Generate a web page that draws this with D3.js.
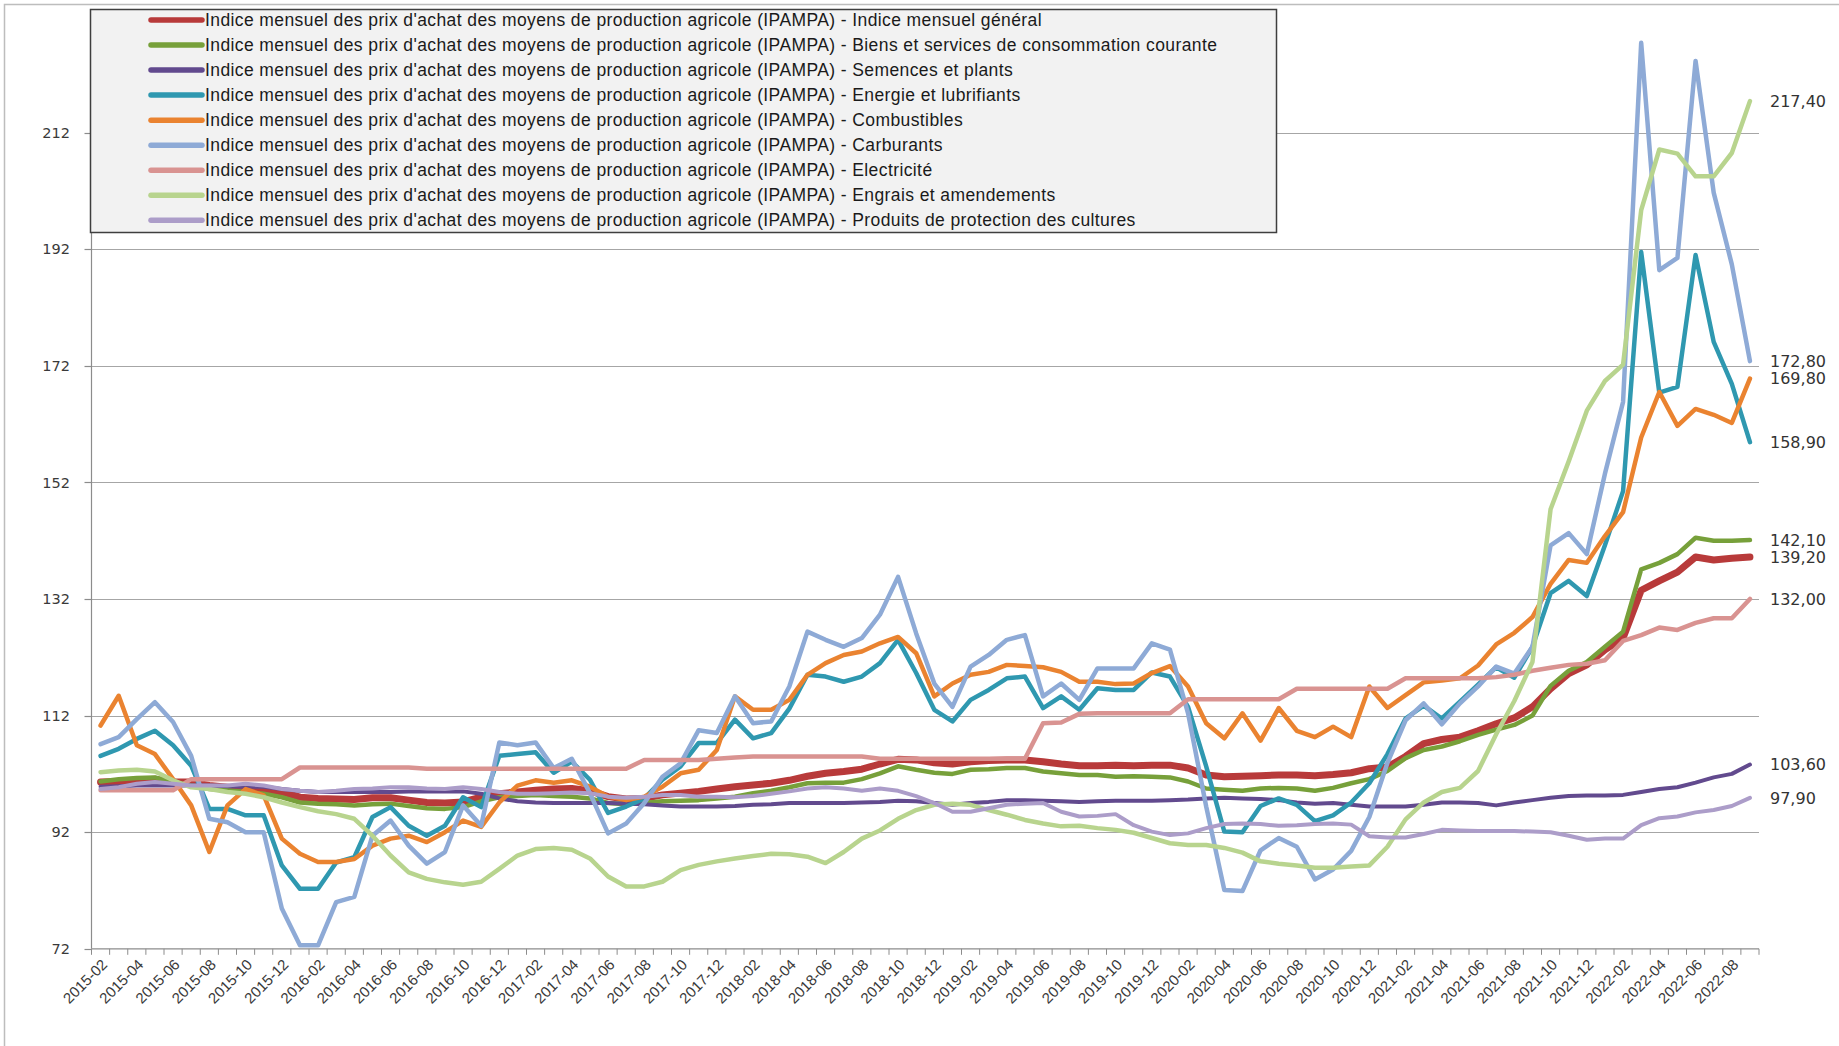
<!DOCTYPE html>
<html>
<head>
<meta charset="utf-8">
<title>IPAMPA - indices mensuels</title>
<script src="https://d3js.org/d3.v7.min.js"></script>
<style>
    body {
        margin: 0;
        background: #fff;
        overflow: hidden;
    }
    .y-label {
        font-family: 'DejaVu Sans', Verdana, sans-serif;
        font-size: 14.5px;
        fill: #3a3a3a;
    }
    .x-label {
        font-family: 'Liberation Sans', Arial, sans-serif;
        font-size: 15px;
        fill: #3a3a3a;
    }
    .end-label {
        font-family: 'DejaVu Sans', Verdana, sans-serif;
        font-size: 16px;
        fill: #333;
    }
    .legend-text {
        font-family: 'Liberation Sans', Arial, sans-serif;
        font-size: 17.5px;
        letter-spacing: 0.4px;
        fill: #1a1a1a;
    }
    .series {
        fill: none;
        stroke-linejoin: round;
        stroke-linecap: round;
    }
</style>
</head>
<body>
<div id="chart"></div>
<script>
// categories : 2015-02 .. 2022-09
const months = d3.utcMonth
    .range(new Date(Date.UTC(2015, 1, 1)), new Date(Date.UTC(2022, 9, 1)))
    .map(d3.utcFormat('%Y-%m'));

const yTicks = [72, 92, 112, 132, 152, 172, 192, 212];

const seriesNames = [
    "Indice mensuel des prix d'achat des moyens de production agricole (IPAMPA) - Indice mensuel général",
    "Indice mensuel des prix d'achat des moyens de production agricole (IPAMPA) - Biens et services de consommation courante",
    "Indice mensuel des prix d'achat des moyens de production agricole (IPAMPA) - Semences et plants",
    "Indice mensuel des prix d'achat des moyens de production agricole (IPAMPA) - Energie et lubrifiants",
    "Indice mensuel des prix d'achat des moyens de production agricole (IPAMPA) - Combustibles",
    "Indice mensuel des prix d'achat des moyens de production agricole (IPAMPA) - Carburants",
    "Indice mensuel des prix d'achat des moyens de production agricole (IPAMPA) - Electricité",
    "Indice mensuel des prix d'achat des moyens de production agricole (IPAMPA) - Engrais et amendements",
    "Indice mensuel des prix d'achat des moyens de production agricole (IPAMPA) - Produits de protection des cultures"
];

const general = [
    100.6, 100.7, 100.9, 101.1, 100.6, 100.6, 100.0, 99.7, 99.4, 99.4, 98.9, 98.0,
    97.8, 97.7, 97.6, 97.9, 97.9, 97.5, 97.1, 97.0, 97.2, 98.0, 98.6, 98.9,
    99.2, 99.4, 99.5, 99.1, 98.1, 97.7, 97.8, 98.4, 98.7, 99.0, 99.4, 99.8,
    100.1, 100.4, 100.9, 101.6, 102.1, 102.4, 102.8, 103.7, 104.5, 104.4, 103.9, 103.7,
    104.1, 104.3, 104.4, 104.4, 104.1, 103.7, 103.4, 103.4, 103.5, 103.4, 103.5, 103.5,
    103.0, 101.8, 101.5, 101.6, 101.7, 101.8, 101.8, 101.7, 101.9, 102.2, 102.9, 103.2,
    105.0, 107.2, 107.9, 108.3, 109.4, 110.6, 111.6, 113.5, 116.6, 119.2, 120.7, 123.3,
    125.3, 133.5, 135.1, 136.6, 139.2, 138.7, 139.0, 139.2
];

const biensServices = [
    100.7, 101.1, 101.3, 101.4, 100.6, 100.0, 99.4, 99.2, 98.9, 98.6, 98.0, 97.1,
    96.9, 96.8, 96.6, 96.8, 96.9, 96.5, 96.1, 96.0, 96.3, 97.3, 98.0, 98.2,
    98.4, 98.2, 98.1, 97.8, 97.0, 96.8, 97.0, 97.3, 97.4, 97.5, 97.8, 98.1,
    98.7, 99.1, 99.7, 100.4, 100.5, 100.5, 101.1, 102.1, 103.3, 102.7, 102.2, 102.0,
    102.7, 102.8, 103.0, 103.0, 102.4, 102.1, 101.8, 101.8, 101.5, 101.6, 101.5, 101.4,
    100.7, 99.5, 99.3, 99.1, 99.5, 99.6, 99.5, 99.1, 99.6, 100.4, 101.1, 102.5,
    104.7, 106.1, 106.7, 107.6, 108.7, 109.6, 110.4, 112.0, 117.1, 119.7, 121.2, 123.8,
    126.4, 137.1, 138.2, 139.7, 142.5, 142.0, 142.0, 142.1
];

const semences = [
    99.8, 99.9, 100.0, 100.0, 100.0, 100.0, 100.0, 99.9, 99.8, 99.8, 99.4, 99.1,
    98.9, 98.9, 98.9, 98.9, 98.9, 99.0, 99.0, 99.0, 99.0, 98.6, 97.8, 97.3,
    97.1, 97.0, 97.0, 97.0, 97.0, 96.9, 96.8, 96.6, 96.4, 96.4, 96.4, 96.5,
    96.7, 96.8, 97.0, 97.0, 97.0, 97.0, 97.1, 97.2, 97.4, 97.3, 97.0, 96.7,
    97.0, 97.2, 97.5, 97.5, 97.4, 97.3, 97.2, 97.3, 97.4, 97.4, 97.4, 97.5,
    97.6, 97.8, 97.9, 97.8, 97.7, 97.5, 97.1, 96.9, 97.0, 96.7, 96.4, 96.4,
    96.4, 96.7, 97.1, 97.1, 97.0, 96.6, 97.1, 97.5, 97.9, 98.2, 98.3, 98.3,
    98.4, 98.9, 99.4, 99.7, 100.5, 101.4, 102.0, 103.6
];

const energie = [
    105.1, 106.3, 108.0, 109.4, 106.9, 103.4, 96.0, 96.0, 94.9, 94.9, 86.3, 82.3,
    82.3, 86.8, 87.7, 94.6, 96.3, 93.1, 91.4, 93.1, 98.0, 96.3, 105.1, 105.4,
    105.7, 102.2, 104.1, 101.0, 95.3, 96.4, 97.8, 101.0, 103.3, 107.3, 107.3, 111.3,
    108.1, 109.0, 113.2, 119.0, 118.7, 117.8, 118.7, 121.0, 125.0, 119.3, 113.0, 111.0,
    114.7, 116.4, 118.4, 118.7, 113.3, 115.3, 113.0, 116.7, 116.4, 116.4, 119.4, 118.7,
    113.5, 103.3, 92.1, 92.0, 96.5, 97.8, 96.7, 93.9, 94.9, 97.1, 100.4, 105.4,
    111.5, 113.7, 111.5, 114.4, 117.3, 120.3, 118.5, 123.8, 133.0, 135.1, 132.5, 141.2,
    150.5, 191.5, 167.4, 168.4, 191.0, 176.1, 168.9, 158.9
];

const combustibles = [
    110.3, 115.4, 106.9, 105.4, 101.1, 96.6, 88.6, 96.6, 99.4, 98.3, 90.9, 88.3,
    86.9, 86.9, 87.4, 89.7, 90.9, 91.4, 90.3, 92.0, 94.0, 92.9, 97.1, 100.0,
    100.9, 100.5, 100.9, 99.8, 98.1, 97.5, 98.1, 99.8, 102.1, 102.7, 106.1, 115.3,
    113.0, 113.0, 114.7, 119.0, 121.0, 122.4, 123.0, 124.4, 125.5, 122.7, 115.3, 117.5,
    119.0, 119.5, 120.7, 120.5, 120.3, 119.5, 117.8, 117.8, 117.4, 117.5, 119.3, 120.5,
    117.0, 110.7, 108.1, 112.4, 107.7, 113.3, 109.4, 108.3, 110.1, 108.3, 117.0, 113.3,
    115.5, 117.7, 118.0, 118.4, 120.6, 124.2, 126.2, 128.9, 134.6, 138.7, 138.2, 142.8,
    146.9, 159.7, 167.5, 161.7, 164.6, 163.6, 162.2, 169.8
];

const carburants = [
    107.1, 108.3, 111.4, 114.3, 110.9, 105.1, 94.3, 93.7, 92.0, 92.0, 78.9, 72.6,
    72.6, 80.0, 80.9, 91.4, 94.0, 89.7, 86.6, 88.6, 96.6, 93.1, 107.4, 106.9,
    107.4, 103.0, 104.6, 98.7, 91.8, 93.5, 97.0, 101.5, 103.8, 109.5, 109.0, 115.3,
    110.7, 111.0, 117.0, 126.4, 125.0, 123.8, 125.3, 129.3, 135.8, 126.1, 117.5, 113.5,
    120.4, 122.4, 125.0, 125.8, 115.3, 117.5, 114.7, 120.1, 120.1, 120.1, 124.4, 123.3,
    112.4, 96.4, 82.1, 81.9, 88.9, 91.0, 89.5, 83.9, 85.6, 88.8, 94.6, 103.9,
    111.2, 114.1, 110.5, 114.1, 117.0, 120.4, 119.2, 123.8, 141.2, 143.3, 139.7, 153.5,
    165.8, 227.4, 188.4, 190.5, 224.3, 201.7, 189.4, 172.8
];

const electricite = [
    99.2, 99.2, 99.2, 99.2, 99.2, 101.1, 101.1, 101.1, 101.1, 101.1, 101.1, 103.1,
    103.1, 103.1, 103.1, 103.1, 103.1, 103.1, 102.9, 102.9, 102.9, 102.9, 102.9, 102.9,
    102.9, 102.9, 102.9, 102.9, 102.9, 102.9, 104.4, 104.4, 104.4, 104.4, 104.6, 104.8,
    105.0, 105.0, 105.0, 105.0, 105.0, 105.0, 105.0, 104.6, 104.6, 104.6, 104.6, 104.6,
    104.6, 104.6, 104.6, 104.6, 110.7, 110.8, 112.3, 112.4, 112.4, 112.4, 112.4, 112.4,
    114.8, 114.8, 114.8, 114.8, 114.8, 114.8, 116.6, 116.6, 116.6, 116.6, 116.6, 116.6,
    118.4, 118.4, 118.4, 118.4, 118.4, 118.6, 119.0, 119.7, 120.2, 120.7, 120.9, 121.5,
    124.8, 125.8, 127.1, 126.7, 127.9, 128.7, 128.7, 132.0
];

const engrais = [
    102.3, 102.6, 102.7, 102.4, 100.9, 99.7, 99.4, 98.9, 98.6, 98.0, 97.1, 96.3,
    95.6, 95.1, 94.3, 91.4, 88.0, 85.1, 84.0, 83.4, 83.0, 83.5, 85.7, 88.0,
    89.1, 89.3, 89.0, 87.5, 84.4, 82.7, 82.7, 83.5, 85.5, 86.4, 87.0, 87.5,
    87.9, 88.3, 88.2, 87.8, 86.7, 88.6, 90.9, 92.3, 94.3, 95.8, 96.7, 96.9,
    96.7, 95.8, 95.0, 94.1, 93.5, 93.0, 93.1, 92.7, 92.4, 91.9, 91.0, 90.1,
    89.8, 89.8, 89.3, 88.5, 87.0, 86.6, 86.3, 85.9, 85.9, 86.1, 86.3, 89.5,
    94.2, 97.1, 98.9, 99.6, 102.5, 108.8, 114.5, 121.2, 147.4, 155.6, 164.3, 169.4,
    172.2, 198.7, 209.1, 208.4, 204.5, 204.5, 208.5, 217.4
];

const protection = [
    99.4, 99.7, 100.3, 100.6, 100.3, 100.0, 100.0, 100.0, 100.3, 100.0, 99.4, 99.1,
    98.9, 99.1, 99.4, 99.5, 99.7, 99.7, 99.5, 99.4, 99.7, 99.4, 98.9, 98.6,
    98.6, 98.7, 98.8, 98.7, 98.1, 97.9, 98.1, 98.4, 98.4, 98.1, 98.1, 98.0,
    98.2, 98.6, 99.0, 99.5, 99.7, 99.5, 99.1, 99.5, 99.1, 98.2, 97.0, 95.5,
    95.5, 96.1, 96.7, 96.9, 97.0, 95.5, 94.7, 94.8, 95.1, 93.2, 92.1, 91.5,
    91.8, 92.7, 93.4, 93.5, 93.4, 93.1, 93.2, 93.4, 93.5, 93.3, 91.3, 91.1,
    91.1, 91.7, 92.4, 92.3, 92.2, 92.2, 92.2, 92.1, 92.0, 91.4, 90.7, 90.9,
    90.9, 93.2, 94.4, 94.7, 95.4, 95.8, 96.5, 97.9
];

const seriesValues = [general, biensServices, semences, energie, combustibles,
                      carburants, electricite, engrais, protection];

// styles, kept apart from the data
const colors = ['#b83a3a', '#77a03a', '#624a8e', '#2f98b0', '#ea8330',
                '#8eaad6', '#d99391', '#b8d48e', '#ac9dc9'];
const widths = [7, 4.5, 4, 4.5, 4.5, 4.5, 4.5, 4.5, 4];

const width = 1839;
const height = 1046;
const plot = {left: 91.5, right: 1759, top: 16, bottom: 948.8};

const svg = d3.select('#chart')
    .append('svg')
    .attr('width', width)
    .attr('height', height);

// chart area border (left and top edges visible)
svg.append('rect')
    .attr('x', 4.5).attr('y', 4.5)
    .attr('width', width + 10).attr('height', height + 10)
    .attr('fill', '#fff')
    .attr('stroke', '#bdbdbd')
    .attr('stroke-width', 1.5);

const x = d3.scalePoint()
    .domain(months)
    .range([plot.left, plot.right])
    .padding(0.5);

const band = d3.scaleBand()
    .domain(months)
    .range([plot.left, plot.right]);

const y = d3.scaleLinear()
    .domain([72, 232])
    .range([plot.bottom, plot.top]);

// gridlines
svg.append('g')
    .selectAll('line')
    .data(yTicks.filter(v => v > 72))
    .enter().append('line')
    .attr('x1', plot.left).attr('x2', plot.right)
    .attr('y1', d => Math.round(y(d)) + 0.5)
    .attr('y2', d => Math.round(y(d)) + 0.5)
    .attr('stroke', '#a6a6a6')
    .attr('stroke-width', 1.2);

// y axis
const yAxis = svg.append('g');
yAxis.append('line')
    .attr('x1', plot.left).attr('x2', plot.left)
    .attr('y1', plot.top).attr('y2', plot.bottom)
    .attr('stroke', '#8c8c8c').attr('stroke-width', 1.2);
yAxis.selectAll('.tick')
    .data(yTicks)
    .enter().append('line')
    .attr('x1', plot.left - 7).attr('x2', plot.left)
    .attr('y1', d => Math.round(y(d)) + 0.5)
    .attr('y2', d => Math.round(y(d)) + 0.5)
    .attr('stroke', '#8c8c8c').attr('stroke-width', 1.2);
yAxis.selectAll('text')
    .data(yTicks)
    .enter().append('text')
    .attr('class', 'y-label')
    .attr('x', 70)
    .attr('y', d => y(d))
    .attr('dy', '0.36em')
    .attr('text-anchor', 'end')
    .text(d => d);

// x axis
const xAxis = svg.append('g');
xAxis.append('line')
    .attr('x1', plot.left).attr('x2', plot.right)
    .attr('y1', plot.bottom).attr('y2', plot.bottom)
    .attr('stroke', '#8c8c8c').attr('stroke-width', 1.2);
xAxis.selectAll('.tick')
    .data(months.concat(['end']))
    .enter().append('line')
    .attr('x1', d => d === 'end' ? plot.right : band(d))
    .attr('x2', d => d === 'end' ? plot.right : band(d))
    .attr('y1', plot.bottom)
    .attr('y2', plot.bottom + 6)
    .attr('stroke', '#8c8c8c').attr('stroke-width', 1);
xAxis.selectAll('text')
    .data(months.filter((m, i) => i % 2 === 0))
    .enter().append('text')
    .attr('class', 'x-label')
    .attr('text-anchor', 'end')
    .attr('transform', d => `translate(${x(d) + 4},${plot.bottom + 13}) rotate(-45)`)
    .attr('dy', '0.35em')
    .text(d => d);

// series
const line = d3.line()
    .x((d, i) => x(months[i]))
    .y(d => y(d));

svg.append('g')
    .selectAll('path')
    .data(seriesValues)
    .enter().append('path')
    .attr('class', 'series')
    .attr('d', line)
    .attr('stroke', (d, i) => colors[i])
    .attr('stroke-width', (d, i) => widths[i]);

// labels of the last values
const fmt = v => d3.format('.2f')(v).replace('.', ',');
svg.append('g')
    .selectAll('text')
    .data(seriesValues)
    .enter().append('text')
    .attr('class', 'end-label')
    .attr('x', 1770)
    .attr('y', d => y(d[d.length - 1]))
    .attr('dy', '0.36em')
    .text(d => fmt(d[d.length - 1]));

// legend
const legend = svg.append('g');
legend.append('rect')
    .attr('x', 90.5).attr('y', 9.5)
    .attr('width', 1186).attr('height', 223)
    .attr('fill', '#f2f2f2')
    .attr('stroke', '#3f3f3f')
    .attr('stroke-width', 1.5);

const item = legend.selectAll('.item')
    .data(seriesNames)
    .enter().append('g')
    .attr('transform', (d, i) => `translate(0,${20 + i * 25.04})`);
item.append('line')
    .attr('x1', 151).attr('x2', 202)
    .attr('stroke', (d, i) => colors[i])
    .attr('stroke-width', 5.5)
    .attr('stroke-linecap', 'round');
item.append('text')
    .attr('class', 'legend-text')
    .attr('x', 205)
    .attr('dy', '0.35em')
    .text(d => d);
</script>
</body>
</html>
